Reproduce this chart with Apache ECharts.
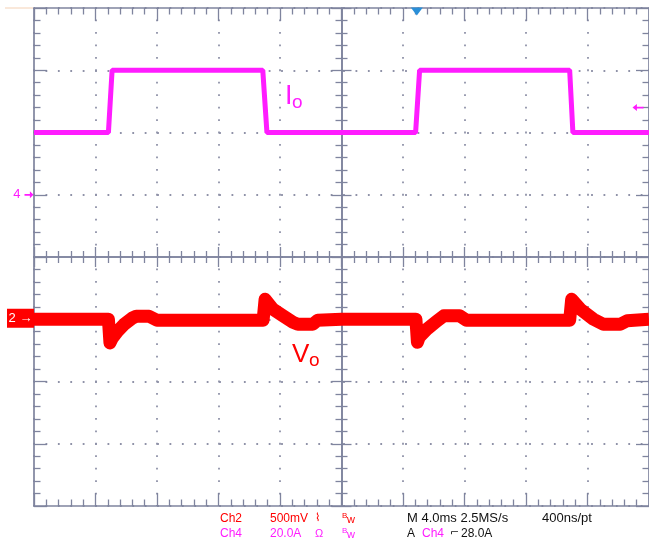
<!DOCTYPE html>
<html>
<head>
<meta charset="utf-8">
<script src="https://cdn.jsdelivr.net/npm/echarts@6/dist/echarts.min.js"></script>
<style>
html,body{margin:0;padding:0;background:#fff;}
#c{width:649px;height:541px;}
</style>
</head>
<body>
<div id="c"></div>
<script>
// ---- data read from the scope capture (time in ms relative to screen centre) ----
const timeIo = [-20, -15.16, -14.92, -5.12, -4.85, 4.82, 5.08, 14.84, 15.05, 20];
const currentIo = [20, 20, 40, 40, 20, 20, 40, 40, 20, 20];          // A, Ch4 20 A/div

const timeVo = [-20, -15.16, -15.06, -14.9, -14.55, -14.13, -13.6, -13.35, -12.52, -12.0, -5.1, -5.03, -4.97, -4.45, -3.81, -3.16, -2.84, -1.87, -1.55, 0,
                4.84, 4.94, 5.05, 5.6, 6.19, 6.65, 7.68, 8.13, 14.84, 14.9, 14.97, 15.55, 16.39, 17.03, 18.13, 18.58, 20];
const voltVo = [0, 0, -190, -150, -95, -40, 10, 24, 24, -8, -8, 0, 160, 80, 28, -24, -40, -40, -8, 0,
                0, -185, -145, -75, -16, 28, 28, -8, -8, 0, 160, 80, 0, -40, -40, -12, 0];   // mV deviation, Ch2 500 mV/div

const ch4Ground = 1;     // divisions above centre
const ch2Ground = -1;    // divisions
const ch4Scale = 20;     // A/div
const ch2Scale = 500;    // mV/div
const triggerLevel = 28; // A
const triggerTime = 4.9; // ms

const readoutRow1 = ['Ch2', '500mV', '400ns/pt'];
const readoutRow2 = ['Ch4', '20.0A', '28.0A'];

// ---- build ----
const MAG = '#ff1cff', RED = '#ff0000', AX = '#7f849e', DOT = '#8f92a8';
const ioData = timeIo.map((t, i) => [t, ch4Ground + currentIo[i] / ch4Scale]);
const voData = timeVo.map((t, i) => [t, ch2Ground + voltVo[i] / ch2Scale]);

function frameAxis(pos, split, dash) {
  const isY = pos === 'left' || pos === 'right';
  return {
    type: 'value', position: pos, min: isY ? -4 : -20, max: isY ? 4 : 20, interval: isY ? 1 : 4,
    axisLine: { show: true, onZero: false, lineStyle: { color: AX, width: 1.7 } },
    axisTick: { show: true, inside: true, length: 13, lineStyle: { color: AX, width: 1.3 } },
    minorTick: { show: true, splitNumber: 5, length: 6.5, lineStyle: { color: AX, width: 1.3 } },
    axisLabel: { show: false },
    splitLine: { show: split, lineStyle: { color: DOT, width: 1.8, type: dash, dashOffset: 0.9 } }
  };
}
function centreAxis(pos, inside, isY) {
  return {
    type: 'value', position: pos, min: isY ? -4 : -20, max: isY ? 4 : 20, interval: isY ? 1 : 4,
    axisLine: { show: true, onZero: true, onZeroAxisIndex: 0, lineStyle: { color: AX, width: 1.6 } },
    axisTick: { show: true, inside: inside, length: 10, lineStyle: { color: AX, width: 1.3 } },
    minorTick: { show: true, splitNumber: 5, length: 6, lineStyle: { color: AX, width: 1.3 } },
    axisLabel: { show: false }, splitLine: { show: false }
  };
}

const arrowRight = 'path://M0,4 L6,4 L6,1 L10,5 L6,9 L6,6 L0,6 Z';
const font = '"Liberation Sans", Arial, sans-serif';

const option = {
  animation: false,
  backgroundColor: '#fff',
  textStyle: { fontFamily: font },
  grid: { left: 34, top: 8, width: 620, height: 498 },
  xAxis: [
    frameAxis('bottom', true, [1.8, 10.65]),
    frameAxis('top', false, 'solid'),
    centreAxis('bottom', true, false),
    centreAxis('bottom', false, false)
  ],
  yAxis: [
    frameAxis('left', true, [1.8, 10.6]),
    frameAxis('right', false, 'solid'),
    centreAxis('left', true, true),
    centreAxis('left', false, true)
  ],
  series: [
    {
      name: 'Io', type: 'line', xAxisIndex: 0, yAxisIndex: 0, data: ioData,
      showSymbol: false, lineStyle: { color: MAG, width: 5, join: 'bevel' }, z: 3,
      markPoint: {
        silent: true, animation: false,
        data: [
          { coord: [-20, ch4Ground], symbol: arrowRight, symbolSize: [9, 7], symbolOffset: [-5, 0],
            itemStyle: { color: MAG },
            label: { show: true, formatter: '4', position: 'left', distance: 4, color: MAG, fontSize: 13, fontFamily: font } },
          { coord: [20, ch4Ground + triggerLevel / ch4Scale], symbol: arrowRight, symbolSize: [11, 7], symbolRotate: 180,
            symbolOffset: [-11, 0], itemStyle: { color: MAG }, label: { show: false } },
          { coord: [triggerTime, 4], symbol: 'triangle', symbolSize: [12, 8], symbolRotate: 180, symbolOffset: [0, 3.5],
            itemStyle: { color: '#2a8fd8' }, label: { show: false } }
        ]
      }
    },
    {
      name: 'Vo', type: 'line', xAxisIndex: 0, yAxisIndex: 0, data: voData,
      showSymbol: false, lineStyle: { color: RED, width: 13, join: 'round' }, z: 2,
      markPoint: {
        silent: true, animation: false,
        data: [
          { coord: [-20, ch2Ground], symbol: 'rect', symbolSize: [27, 19], symbolOffset: [-13.5, -1],
            itemStyle: { color: RED },
            label: { show: true, formatter: '2 →', position: 'inside', color: '#fff', fontSize: 13, fontFamily: font } }
        ]
      }
    }
  ],
  graphic: [
    { type: 'line', shape: { x1: 5, y1: 8, x2: 33, y2: 8 }, style: { stroke: '#f6d9c2', lineWidth: 1.2 } },
    { type: 'text', x: 285, y: 97, style: { text: 'I', fontSize: 27, fill: MAG, fontFamily: font, verticalAlign: 'middle' } },
    { type: 'text', x: 292, y: 103, style: { text: 'o', fontSize: 19, fill: MAG, fontFamily: font, verticalAlign: 'middle' } },
    { type: 'text', x: 292, y: 355, style: { text: 'V', fontSize: 26, fill: RED, fontFamily: font, verticalAlign: 'middle' } },
    { type: 'text', x: 309, y: 361, style: { text: 'o', fontSize: 19, fill: RED, fontFamily: font, verticalAlign: 'middle' } },

    { type: 'text', x: 220, y: 518.5, style: { text: readoutRow1[0], fontSize: 12, fill: RED, fontFamily: font, verticalAlign: 'middle' } },
    { type: 'text', x: 270, y: 518.5, style: { text: readoutRow1[1], fontSize: 12, fill: RED, fontFamily: font, verticalAlign: 'middle' } },
    { type: 'text', x: 315, y: 518.5, style: { text: '⌇', fontSize: 11, fill: RED, fontFamily: 'DejaVu Sans', verticalAlign: 'middle' } },
    { type: 'text', x: 342, y: 515.5, style: { text: 'B', fontSize: 8, fill: RED, fontFamily: font, verticalAlign: 'middle' } },
    { type: 'text', x: 347, y: 519.5, style: { text: 'w', fontSize: 11, fill: RED, fontFamily: font, verticalAlign: 'middle' } },
    { type: 'text', x: 407, y: 518.5, style: { text: 'M 4.0ms 2.5MS/s', fontSize: 13, fill: '#111', fontFamily: font, verticalAlign: 'middle' } },
    { type: 'text', x: 542, y: 518.5, style: { text: readoutRow1[2], fontSize: 13, fill: '#111', fontFamily: font, verticalAlign: 'middle' } },

    { type: 'text', x: 220, y: 533.5, style: { text: readoutRow2[0], fontSize: 12, fill: MAG, fontFamily: font, verticalAlign: 'middle' } },
    { type: 'text', x: 270, y: 533.5, style: { text: readoutRow2[1], fontSize: 12, fill: MAG, fontFamily: font, verticalAlign: 'middle' } },
    { type: 'text', x: 315, y: 533.5, style: { text: 'Ω', fontSize: 11, fill: MAG, fontFamily: font, verticalAlign: 'middle' } },
    { type: 'text', x: 342, y: 530.5, style: { text: 'B', fontSize: 8, fill: MAG, fontFamily: font, verticalAlign: 'middle' } },
    { type: 'text', x: 347, y: 534.5, style: { text: 'w', fontSize: 11, fill: MAG, fontFamily: font, verticalAlign: 'middle' } },
    { type: 'text', x: 407, y: 533.5, style: { text: 'A', fontSize: 12, fill: '#111', fontFamily: font, verticalAlign: 'middle' } },
    { type: 'text', x: 422, y: 533.5, style: { text: 'Ch4', fontSize: 12, fill: MAG, fontFamily: font, verticalAlign: 'middle' } },
    { type: 'text', x: 450, y: 533.5, style: { text: '⌐', fontSize: 11, fill: '#111', fontFamily: 'DejaVu Sans', verticalAlign: 'middle' } },
    { type: 'text', x: 461, y: 533.5, style: { text: readoutRow2[2], fontSize: 12, fill: '#111', fontFamily: font, verticalAlign: 'middle' } }
  ]
};

const chart = echarts.init(document.getElementById('c'), null, { renderer: 'canvas', width: 649, height: 541 });
chart.setOption(option);
</script>
</body>
</html>
